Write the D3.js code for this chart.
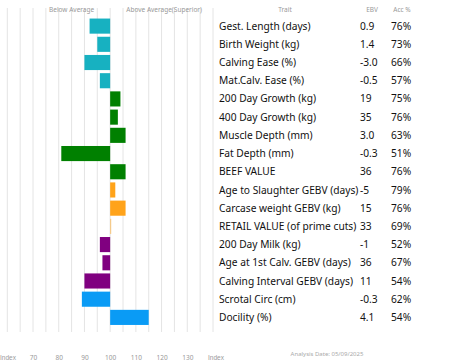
<!DOCTYPE html>
<html>
<head>
<meta charset="utf-8">
<script src="https://cdn.jsdelivr.net/npm/d3@7"></script>
<style>
  body { margin: 0; background: #fff; }
  svg { display: block; font-family: "Noto Sans", sans-serif; }
</style>
</head>
<body>
<svg id="chart"></svg>
<script>
const traits = ["Gest. Length (days)", "Birth Weight (kg)", "Calving Ease (%)", "Mat.Calv. Ease (%)",
  "200 Day Growth (kg)", "400 Day Growth (kg)", "Muscle Depth (mm)", "Fat Depth (mm)", "BEEF VALUE",
  "Age to Slaughter GEBV (days)", "Carcase weight GEBV (kg)", "RETAIL VALUE (of prime cuts)",
  "200 Day Milk (kg)", "Age at 1st Calv. GEBV (days)", "Calving Interval GEBV (days)",
  "Scrotal Circ (cm)", "Docility (%)"];
const ebv = ["0.9", "1.4", "-3.0", "-0.5", "19", "35", "3.0", "-0.3", "36", "-5", "15", "33", "-1", "36", "11", "-0.3", "4.1"];
const acc = ["76%", "73%", "66%", "57%", "75%", "76%", "63%", "51%", "76%", "79%", "76%", "69%", "52%", "67%", "54%", "62%", "54%"];
const index = [92, 95, 90, 96, 104, 103, 106, 81, 106, 102, 106, 100.4, 96, 97, 90, 89, 115];
const groups = ["calving", "calving", "calving", "calving", "growth", "growth", "growth", "growth", "growth",
  "carcase", "carcase", "carcase", "fertility", "fertility", "fertility", "other", "other"];
const groupColors = {calving: "#17b1c1", growth: "#008000", carcase: "#ffa31a", fertility: "#800080", other: "#0a9bf5"};
const tickValues = [70, 80, 90, 100, 110, 120, 130];

const width = 453, height = 362;
const svg = d3.select("#chart").attr("width", width).attr("height", height);

const x = d3.scaleLinear([60, 140], [7.3, 213]);
const y = d3.scaleBand(traits, [17, 326.5]).paddingInner(0.17).paddingOuter(0.085);

// grid every 5 index points
svg.append("g")
  .selectAll("line")
  .data(d3.range(60, 145, 5))
  .join("line")
  .attr("x1", d => x(d)).attr("x2", d => x(d))
  .attr("y1", 8).attr("y2", 332)
  .attr("stroke", "#e4e4e4").attr("stroke-width", 1);

svg.append("g")
  .selectAll("rect")
  .data(traits)
  .join("rect")
  .attr("x", (d, i) => x(Math.min(100, index[i])))
  .attr("width", (d, i) => Math.max(1, Math.abs(x(index[i]) - x(100))))
  .attr("y", d => y(d))
  .attr("height", y.bandwidth())
  .attr("fill", (d, i) => i === 11 ? "#f5c47a" : groupColors[groups[i]]);

// bottom axis
const axis = svg.append("g")
  .attr("transform", "translate(0,352)")
  .call(d3.axisBottom(x).tickValues(tickValues).tickSize(0))
  .call(g => g.select(".domain").remove());
axis.selectAll("text").attr("font-size", 6.5).attr("fill", "#999").attr("font-family", "Noto Sans");
axis.append("text").attr("x", 8).attr("y", 3).attr("dy", "0.71em")
  .attr("text-anchor", "middle").attr("font-size", 6.5).attr("fill", "#999").text("Index");
axis.append("text").attr("x", x(140) + 3).attr("y", 3).attr("dy", "0.71em")
  .attr("text-anchor", "middle").attr("font-size", 6.5).attr("fill", "#999").text("Index");

// headers
const head = svg.append("g").attr("font-size", 6.5).attr("fill", "#999");
head.append("text").attr("x", x(85)).attr("y", 12).attr("text-anchor", "middle").text("Below Average");
head.append("text").attr("x", x(121)).attr("y", 12).attr("text-anchor", "middle").text("Above Average(Superior)");
head.append("text").attr("x", 285).attr("y", 12).attr("text-anchor", "middle").text("Trait");
head.append("text").attr("x", 372).attr("y", 12).attr("text-anchor", "middle").text("EBV");
head.append("text").attr("x", 402).attr("y", 12).attr("text-anchor", "middle").text("Acc %");
svg.append("text").attr("x", 327).attr("y", 356).attr("text-anchor", "middle")
  .attr("font-size", 6).attr("fill", "#aaa").text("Analysis Date: 05/09/2025");

// table
const rows = svg.append("g").attr("font-size", 10.2).attr("fill", "#111");
rows.selectAll(".trait").data(traits).join("text")
  .attr("x", 219).attr("y", d => y(d) + y.bandwidth() / 2).attr("dy", "0.35em").text(d => d);
rows.selectAll(".ebv").data(traits).join("text")
  .attr("x", 360).attr("y", d => y(d) + y.bandwidth() / 2).attr("dy", "0.35em").text((d, i) => ebv[i]);
rows.selectAll(".acc").data(traits).join("text")
  .attr("x", 391).attr("y", d => y(d) + y.bandwidth() / 2).attr("dy", "0.35em").text((d, i) => acc[i]);
</script>
</body>
</html>
